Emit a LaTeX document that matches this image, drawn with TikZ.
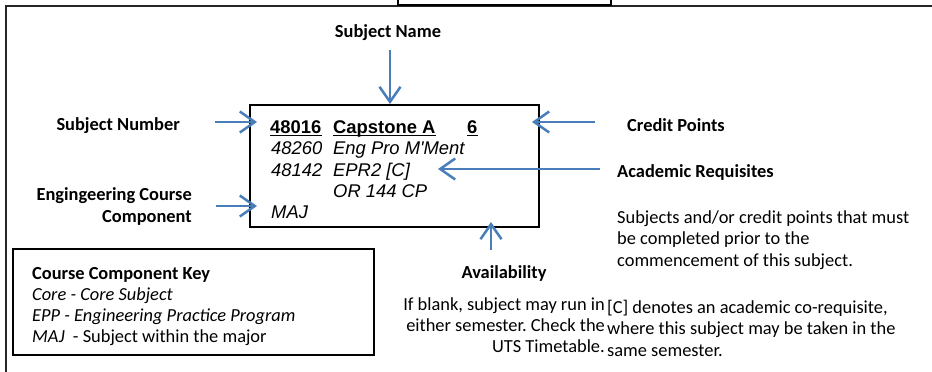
\documentclass[tikz,border=0pt]{standalone}
\usepackage{fontspec}
\setmainfont{Carlito}
\newfontfamily\arialfont{Liberation Sans}
\usetikzlibrary{arrows.meta}
\definecolor{pointerblue}{RGB}{74,126,187}
\frenchspacing
\begin{document}
\begin{tikzpicture}[x=1pt,y=-1pt,
  every node/.style={inner sep=0pt},
  lbl/.style={font=\fontsize{18.4}{22}\selectfont\bfseries},
  txt/.style={font=\fontsize{18.4}{22}\selectfont},
  ktxt/.style={font=\fontsize{18.4}{22}\selectfont\itshape},
  boxb/.style={font=\arialfont\fontsize{18.4}{22}\selectfont\bfseries},
  boxi/.style={font=\arialfont\fontsize{18.4}{22}\selectfont\itshape},
  pointer/.style={draw=pointerblue, line width=2.5pt, -{Straight Barb[length=15pt,width=21pt]}},
  uline/.style={line width=1.8pt},
]
\useasboundingbox (0,0) rectangle (932,372);

% outer frame and top box
\draw[line width=2pt, black!85] (6,380) -- (6,6) -- (940,6);
\node[draw, line width=2.5pt, minimum width=213, minimum height=14] (topbox) at (504.5,-2) {};

% subject card
\node[draw, line width=1.3pt, minimum width=289, minimum height=122] (card) at (394.5,166) {};
\node[boxb, anchor=base west] (num) at (270,133) {48016};
\node[boxb, anchor=base west] (title) at (333,133) {Capstone A};
\node[boxb, anchor=base west] (cpv) at (467,133) {6};
\draw[uline] ([yshift=-2.5pt]num.base west) -- ([yshift=-2.5pt]num.base east);
\draw[uline] ([yshift=-2.5pt]title.base west) -- ([yshift=-2.5pt]title.base east);
\draw[uline] ([yshift=-2.5pt]cpv.base west) -- ([yshift=-2.5pt]cpv.base east);
\node[boxi, anchor=base west] (p1n) at (271,154) {48260};
\node[boxi, anchor=base west] (p1t) at (333,154) {Eng Pro M'Ment};
\node[boxi, anchor=base west] (p2n) at (271,176) {48142};
\node[boxi, anchor=base west] (p2t) at (333,176) {EPR2 [C]};
\node[boxi, anchor=base west] (p3t) at (333,197) {OR 144 CP};
\node[boxi, anchor=base west] (maj) at (271,218) {MAJ};

% labels
\node[lbl, anchor=base] (sname) at (388,37) {Subject Name};
\node[lbl, anchor=base east] (snum) at (180,130) {Subject Number};
\node[lbl, anchor=base east] (eng1) at (192,200) {Engingeering Course};
\node[lbl, anchor=base east] (eng2) at (192,222) {Component};
\node[lbl, anchor=base west] (cp) at (627,131) {Credit Points};
\node[lbl, anchor=base west] (areq) at (617,177) {Academic Requisites};
\node[txt, anchor=base west] (r1) at (617,223) {Subjects and/or credit points that must};
\node[txt, anchor=base west] (r2) at (617,244.5) {be completed prior to the};
\node[txt, anchor=base west] (r3) at (617,266) {commencement of this subject.};
\node[txt, anchor=base west] (c1) at (607,313) {[C] denotes an academic co-requisite,};
\node[txt, anchor=base west] (c2) at (607,334.5) {where this subject may be taken in the};
\node[txt, anchor=base west] (c3) at (607,356) {same semester.};
\node[lbl, anchor=base] (avail) at (504,278) {Availability};
\node[txt, anchor=base east] (a1) at (605,310) {If blank, subject may run in};
\node[txt, anchor=base east] (a2) at (605,331) {either semester. Check the};
\node[txt, anchor=base east] (a3) at (605,352) {UTS Timetable.};

% key box
\node[draw, line width=1.2pt, minimum width=361, minimum height=106] (keybox) at (193.5,302) {};
\node[lbl, anchor=base west] (k0) at (32,279) {Course Component Key};
\node[ktxt, anchor=base west] (k1) at (32,300) {Core - Core Subject};
\node[ktxt, anchor=base west] (k2) at (32,321.5) {EPP - Engineering Practice Program};
\node[txt, anchor=base west] (k3) at (32,342.5) {\textit{MAJ}\ \ - Subject within the major};

% pointers
\coordinate (nameA) at (390,50);  \coordinate (nameB) at (390,104);
\coordinate (numA) at (215,122);  \coordinate (numB) at (257,122);
\coordinate (engA) at (216,206);  \coordinate (engB) at (257,206);
\coordinate (cpA) at (595,122);   \coordinate (cpB) at (532,122);
\coordinate (reqA) at (600,169);  \coordinate (reqB) at (438,169);
\coordinate (avA) at (491,250);   \coordinate (avB) at (491,222);
\draw[pointer] (nameA) -- (nameB);
\draw[pointer] (numA) -- (numB);
\draw[pointer] (engA) -- (engB);
\draw[pointer] (cpA) -- (cpB);
\draw[pointer] (reqA) -- (reqB);
\draw[pointer] (avA) -- (avB);
\end{tikzpicture}
\end{document}
